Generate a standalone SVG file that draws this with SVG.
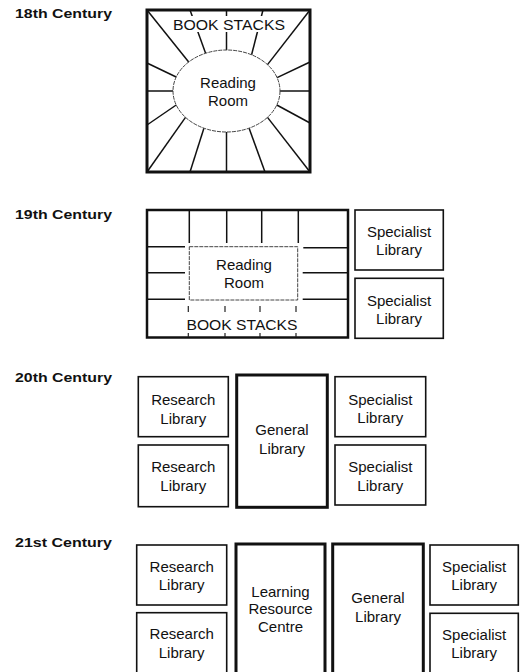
<svg xmlns="http://www.w3.org/2000/svg" width="520" height="672" viewBox="0 0 520 672">
<style>
text{font-family:"Liberation Sans",Arial,sans-serif;fill:#111}
.lbl{font-size:13px;font-weight:bold}
.t{font-size:15px;text-anchor:middle}
.box{fill:#fff;stroke:#111;stroke-width:1.6}
.thick{fill:#fff;stroke:#111;stroke-width:3}
.ray{stroke:#111;stroke-width:1.5;fill:none}
.thin{stroke:#444;stroke-width:1;fill:none;stroke-dasharray:4 1}
</style>
<rect width="520" height="672" fill="#fff"/>

<g id="labels">
<text class="lbl" x="15" y="18" textLength="97" lengthAdjust="spacingAndGlyphs">18th Century</text>
<text class="lbl" x="15" y="219" textLength="97" lengthAdjust="spacingAndGlyphs">19th Century</text>
<text class="lbl" x="15" y="382" textLength="97" lengthAdjust="spacingAndGlyphs">20th Century</text>
<text class="lbl" x="15" y="547" textLength="97" lengthAdjust="spacingAndGlyphs">21st Century</text>
</g>

<!-- 18th century -->
<g id="c18-bookstacks">
<rect class="thick" x="147" y="10" width="163" height="162"/>
<g class="ray">
<line x1="147" y1="10" x2="188.7" y2="62"/>
<line x1="190" y1="10" x2="205.6" y2="53.3"/>
<line x1="226.5" y1="10" x2="226.5" y2="50"/>
<line x1="263" y1="10" x2="251.6" y2="54.8"/>
<line x1="310" y1="10" x2="267.5" y2="64.6"/>
<line x1="310" y1="62" x2="277.1" y2="77.6"/>
<line x1="310" y1="91" x2="280" y2="91"/>
<line x1="310" y1="123" x2="276.8" y2="105"/>
<line x1="310" y1="172" x2="267.5" y2="117.4"/>
<line x1="265" y1="172" x2="249.1" y2="128.2"/>
<line x1="226.5" y1="172" x2="226.5" y2="132"/>
<line x1="190" y1="172" x2="203.9" y2="128.2"/>
<line x1="147" y1="172" x2="185.5" y2="117.4"/>
<line x1="147" y1="125" x2="176.2" y2="105"/>
<line x1="147" y1="91" x2="173" y2="91"/>
<line x1="147" y1="63" x2="176.2" y2="77"/>
</g>
<rect x="171" y="16" width="116" height="16" fill="#fff"/>
<text class="t" x="229" y="30" textLength="112" lengthAdjust="spacingAndGlyphs">BOOK STACKS</text>
</g>
<g id="c18-reading-room">
<ellipse class="thin" cx="226.5" cy="91" rx="53.5" ry="41" fill="#fff"/>
<text class="t" x="228" y="88">Reading</text>
<text class="t" x="228" y="106">Room</text>
</g>

<!-- 19th century -->
<g id="c19-bookstacks">
<rect x="147" y="210" width="201" height="127.5" fill="#fff" stroke="#111" stroke-width="2.5"/>
<g class="ray">
<line x1="189.3" y1="210" x2="189.3" y2="243"/>
<line x1="226.7" y1="210" x2="226.7" y2="243"/>
<line x1="261.7" y1="210" x2="261.7" y2="243"/>
<line x1="298.3" y1="210" x2="298.3" y2="243"/>
<line x1="147" y1="246.7" x2="185" y2="246.7"/>
<line x1="147" y1="272.7" x2="185" y2="272.7"/>
<line x1="147" y1="299.3" x2="185" y2="299.3"/>
<line x1="303.3" y1="247.7" x2="348" y2="247.7"/>
<line x1="302.7" y1="272.7" x2="348" y2="272.7"/>
<line x1="302.7" y1="299.3" x2="348" y2="299.3"/>
</g>
<g stroke="#222" stroke-width="1.2">
<line x1="188.3" y1="306" x2="188.3" y2="312"/>
<line x1="225" y1="306" x2="225" y2="312"/>
<line x1="260" y1="306" x2="260" y2="312"/>
<line x1="296" y1="306" x2="296" y2="312"/>
<line x1="188.3" y1="333" x2="188.3" y2="337"/>
<line x1="225" y1="333" x2="225" y2="337"/>
<line x1="260" y1="333" x2="260" y2="337"/>
<line x1="296" y1="333" x2="296" y2="337"/>
</g>
<text class="t" x="242" y="330" textLength="111" lengthAdjust="spacingAndGlyphs">BOOK STACKS</text>
</g>
<g id="c19-reading-room">
<rect class="thin" x="189.3" y="246.7" width="108.4" height="53.3"/>
<text class="t" x="244" y="270">Reading</text>
<text class="t" x="244" y="288">Room</text>
</g>
<g id="c19-specialist-1">
<rect class="box" x="355" y="210" width="88.3" height="60"/>
<text class="t" x="399" y="237">Specialist</text>
<text class="t" x="399" y="255">Library</text>
</g>
<g id="c19-specialist-2">
<rect class="box" x="355" y="278.3" width="88.3" height="60"/>
<text class="t" x="399" y="306">Specialist</text>
<text class="t" x="399" y="323.5">Library</text>
</g>

<!-- 20th century -->
<g id="c20-research-1">
<rect class="box" x="138.3" y="376.7" width="90" height="60"/>
<text class="t" x="183.3" y="404.5">Research</text>
<text class="t" x="183.3" y="423.5">Library</text>
</g>
<g id="c20-research-2">
<rect class="box" x="138.3" y="445" width="90" height="61.7"/>
<text class="t" x="183.3" y="471.7">Research</text>
<text class="t" x="183.3" y="491">Library</text>
</g>
<g id="c20-general">
<rect class="thick" x="236.7" y="375" width="90.6" height="132.3"/>
<text class="t" x="282" y="435">General</text>
<text class="t" x="282" y="453.5">Library</text>
</g>
<g id="c20-specialist-1">
<rect class="box" x="335" y="376.7" width="90.7" height="60"/>
<text class="t" x="380.3" y="405">Specialist</text>
<text class="t" x="380.3" y="423">Library</text>
</g>
<g id="c20-specialist-2">
<rect class="box" x="335" y="445" width="90.7" height="60"/>
<text class="t" x="380.3" y="471.7">Specialist</text>
<text class="t" x="380.3" y="490.5">Library</text>
</g>

<!-- 21st century -->
<g id="c21-research-1">
<rect class="box" x="136.7" y="545" width="90" height="60"/>
<text class="t" x="181.7" y="571.7">Research</text>
<text class="t" x="181.7" y="590">Library</text>
</g>
<g id="c21-research-2">
<rect class="box" x="136.7" y="612.7" width="90" height="70"/>
<text class="t" x="181.7" y="639.3">Research</text>
<text class="t" x="181.7" y="658.3">Library</text>
</g>
<g id="c21-learning-resource-centre">
<rect class="thick" x="236" y="544" width="89" height="140"/>
<text class="t" x="280.5" y="596.7">Learning</text>
<text class="t" x="280.5" y="614.2">Resource</text>
<text class="t" x="280.5" y="631.7">Centre</text>
</g>
<g id="c21-general">
<rect class="thick" x="332.7" y="544" width="90.6" height="140"/>
<text class="t" x="378" y="603.3">General</text>
<text class="t" x="378" y="621.7">Library</text>
</g>
<g id="c21-specialist-1">
<rect class="box" x="430" y="545" width="88.3" height="60"/>
<text class="t" x="474.2" y="571.7">Specialist</text>
<text class="t" x="474.2" y="590">Library</text>
</g>
<g id="c21-specialist-2">
<rect class="box" x="430" y="613.3" width="88.3" height="70"/>
<text class="t" x="474.2" y="640">Specialist</text>
<text class="t" x="474.2" y="658.3">Library</text>
</g>

<g id="connectors"/>
</svg>
